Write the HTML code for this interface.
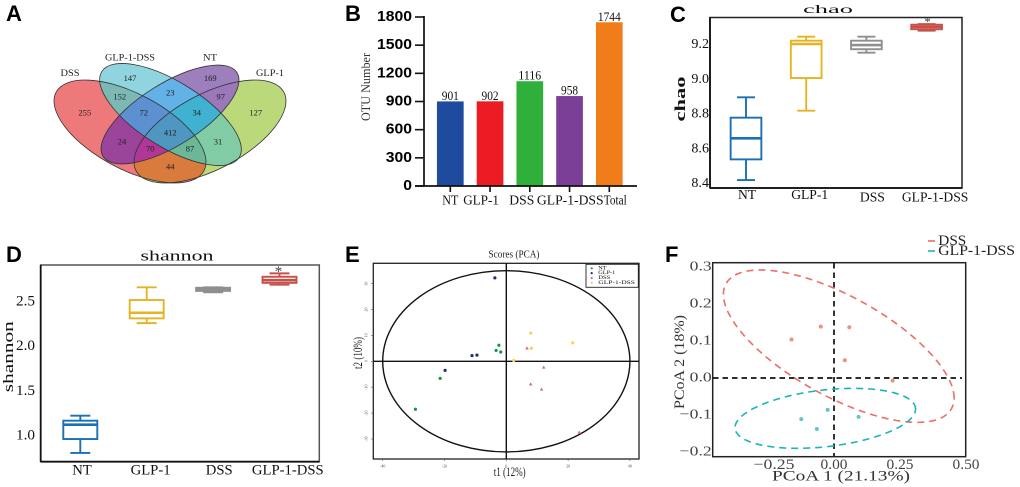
<!DOCTYPE html>
<html lang="en">
<head>
<meta charset="utf-8">
<title>Microbiome diversity figure</title>
<style>
  html, body { margin: 0; padding: 0; background: #fff; width: 1020px; height: 487px; overflow: hidden; }
  svg { display: block; filter: blur(0.35px); }
  text { font-family: "Liberation Serif", serif; fill: #111; }
  .panel-letter { font-family: "Liberation Sans", sans-serif; font-weight: bold; font-size: 22px; fill: #000; }
  .venn-num { font-size: 8.5px; text-anchor: middle; dominant-baseline: central; fill: #222; }
  .venn-set { font-size: 9.5px; text-anchor: middle; dominant-baseline: central; fill: #222; }
</style>
</head>
<body>
<svg id="fig" xmlns="http://www.w3.org/2000/svg" width="1020" height="487" viewBox="0 0 1020 487">
  <defs>
    <clipPath id="c-d"><ellipse cx="130" cy="131.5" rx="83.7" ry="37.7" transform="rotate(28 130 131.5)"/></clipPath>
    <clipPath id="c-g"><ellipse cx="210" cy="131.5" rx="83.7" ry="37.7" transform="rotate(-28 210 131.5)"/></clipPath>
    <clipPath id="c-c"><ellipse cx="170.5" cy="114.5" rx="81" ry="32.6" transform="rotate(32 170.5 114.5)"/></clipPath>
    <clipPath id="c-n"><ellipse cx="170" cy="114.5" rx="79" ry="31" transform="rotate(-32 170 114.5)"/></clipPath>
  </defs>

  <text class="panel-letter" x="6" y="21">A</text>
  <text class="panel-letter" x="345" y="21">B</text>
  <text class="panel-letter" x="670" y="22">C</text>
  <text class="panel-letter" x="6" y="262">D</text>
  <text class="panel-letter" x="345" y="262">E</text>
  <text class="panel-letter" x="665" y="262">F</text>

  <g>
    <g clip-path="url(#c-d)"><rect x="0" y="40" width="340" height="170" fill="#ee797b"/></g>
    <g clip-path="url(#c-g)"><rect x="0" y="40" width="340" height="170" fill="#bbd97b"/></g>
    <g clip-path="url(#c-c)"><rect x="0" y="40" width="340" height="170" fill="#8fd4de"/></g>
    <g clip-path="url(#c-n)"><rect x="0" y="40" width="340" height="170" fill="#9e7fbd"/></g>
    <g clip-path="url(#c-d)"><g clip-path="url(#c-g)"><rect x="0" y="40" width="340" height="170" fill="#d97b3c"/></g></g>
    <g clip-path="url(#c-d)"><g clip-path="url(#c-c)"><rect x="0" y="40" width="340" height="170" fill="#7cb9b4"/></g></g>
    <g clip-path="url(#c-d)"><g clip-path="url(#c-n)"><rect x="0" y="40" width="340" height="170" fill="#9b459a"/></g></g>
    <g clip-path="url(#c-g)"><g clip-path="url(#c-c)"><rect x="0" y="40" width="340" height="170" fill="#82cca5"/></g></g>
    <g clip-path="url(#c-g)"><g clip-path="url(#c-n)"><rect x="0" y="40" width="340" height="170" fill="#9a78ba"/></g></g>
    <g clip-path="url(#c-c)"><g clip-path="url(#c-n)"><rect x="0" y="40" width="340" height="170" fill="#62b1e7"/></g></g>
    <g clip-path="url(#c-d)"><g clip-path="url(#c-c)"><g clip-path="url(#c-n)"><rect x="0" y="40" width="340" height="170" fill="#5c90d0"/></g></g></g>
    <g clip-path="url(#c-g)"><g clip-path="url(#c-c)"><g clip-path="url(#c-n)"><rect x="0" y="40" width="340" height="170" fill="#3fb2d2"/></g></g></g>
    <g clip-path="url(#c-d)"><g clip-path="url(#c-g)"><g clip-path="url(#c-n)"><rect x="0" y="40" width="340" height="170" fill="#b03697"/></g></g></g>
    <g clip-path="url(#c-d)"><g clip-path="url(#c-g)"><g clip-path="url(#c-c)"><rect x="0" y="40" width="340" height="170" fill="#6bb798"/></g></g></g>
    <g clip-path="url(#c-d)"><g clip-path="url(#c-g)"><g clip-path="url(#c-c)"><g clip-path="url(#c-n)"><rect x="0" y="40" width="340" height="170" fill="#4f96c0"/></g></g></g></g>
    <g fill="none" stroke="#333" stroke-width="0.8">
      <ellipse cx="130" cy="131.5" rx="83.7" ry="37.7" transform="rotate(28 130 131.5)"/>
      <ellipse cx="210" cy="131.5" rx="83.7" ry="37.7" transform="rotate(-28 210 131.5)"/>
      <ellipse cx="170.5" cy="114.5" rx="81" ry="32.6" transform="rotate(32 170.5 114.5)"/>
      <ellipse cx="170" cy="114.5" rx="79" ry="31" transform="rotate(-32 170 114.5)"/>
    </g>
    <text class="venn-set" x="70" y="74" textLength="19" lengthAdjust="spacingAndGlyphs">DSS</text>
    <text class="venn-set" x="130" y="58.3" textLength="50" lengthAdjust="spacingAndGlyphs">GLP-1-DSS</text>
    <text class="venn-set" x="210" y="58.3" textLength="14" lengthAdjust="spacingAndGlyphs">NT</text>
    <text class="venn-set" x="270" y="74" textLength="28" lengthAdjust="spacingAndGlyphs">GLP-1</text>
    <text class="venn-num" x="130" y="78">147</text>
    <text class="venn-num" x="210.3" y="78">169</text>
    <text class="venn-num" x="119.7" y="96.3">152</text>
    <text class="venn-num" x="170.3" y="92.7">23</text>
    <text class="venn-num" x="220.7" y="96.3">97</text>
    <text class="venn-num" x="84.7" y="112.7">255</text>
    <text class="venn-num" x="143.7" y="112.7">72</text>
    <text class="venn-num" x="196.7" y="112.7">34</text>
    <text class="venn-num" x="255.7" y="112.7">127</text>
    <text class="venn-num" x="170.3" y="132.3">412</text>
    <text class="venn-num" x="122" y="141.3">24</text>
    <text class="venn-num" x="218" y="141.3">31</text>
    <text class="venn-num" x="150.3" y="148.3">70</text>
    <text class="venn-num" x="190" y="148.3">87</text>
    <text class="venn-num" x="170.3" y="166.7">44</text>
  </g>
</svg>

<script>
// ---------- Panel B data ----------
const otuCategories = ['NT', 'GLP-1', 'DSS', 'GLP-1-DSS', 'Total'];
const otuValues = [901, 902, 1116, 958, 1744];
const otuTicks = [0, 300, 600, 900, 1200, 1500, 1800];
const otuColors = ['#1f4b9f', '#ec1c24', '#2fb03a', '#7b3f98', '#f07c1a'];

// ---------- Panel C data ----------
const boxGroups = ['NT', 'GLP-1', 'DSS', 'GLP-1-DSS'];
const boxColors = ['#1b6fb5', '#e6b422', '#8f8f8f', '#c8504a'];
const chaoLow = [8.417, 8.816, 9.15, 9.277];
const chaoQ1 = [8.536, 9.004, 9.17, 9.285];
const chaoMedian = [8.657, 9.2, 9.194, 9.298];
const chaoQ3 = [8.776, 9.219, 9.219, 9.311];
const chaoHigh = [8.893, 9.242, 9.242, 9.315];
const chaoTicks = [8.4, 8.6, 8.8, 9.0, 9.2];

// ---------- Panel D data ----------
const shannonLow = [0.80, 2.25, 2.595, 2.68];
const shannonQ1 = [0.955, 2.303, 2.61, 2.70];
const shannonMedian = [1.115, 2.366, 2.63, 2.73];
const shannonQ3 = [1.16, 2.508, 2.645, 2.768];
const shannonHigh = [1.216, 2.65, 2.65, 2.806];
const shannonTicks = [1.0, 1.5, 2.0, 2.5];

// ---------- Panel E data ----------
const pcaNtX = [-2.4, -3.3, -1.8, -21.4, -29.4];
const pcaNtY = [6.2, 4.2, 3.6, -6.6, -18.5];
const pcaGlpX = [-3.7, -11.1, -9.5, -19.8];
const pcaGlpY = [32.2, 2.2, 2.4, -3.5];
const pcaDssX = [6.7, 12.1, 7.9, 11.4, 23.6];
const pcaDssY = [5.1, -2.3, -8.8, -10.8, -27.4];
const pcaGlpDssX = [7.9, 8.1, 21.5, 2.4];
const pcaGlpDssY = [10.9, 5.0, 7.1, 0.3];
const pcaXTicks = [-40, -20, 0, 20, 40];
const pcaYTicks = [-30, -20, -10, 0, 10, 20, 30];
const pcaLegend = ['NT', 'GLP-1', 'DSS', 'GLP-1-DSS'];

// ---------- Panel F data ----------
const pcoaDssX = [-0.161, -0.05, 0.058, 0.041, 0.222];
const pcoaDssY = [0.104, 0.139, 0.137, 0.048, -0.007];
const pcoaGlpDssX = [-0.124, -0.065, -0.024, 0.093];
const pcoaGlpDssY = [-0.111, -0.138, -0.086, -0.105];
const pcoaXTicks = [-0.25, 0, 0.25, 0.5];
const pcoaYTicks = [-0.2, -0.1, 0, 0.1, 0.2, 0.3];
const pcoaEllipseCenterX = [0.018, -0.033];
const pcoaEllipseCenterY = [0.086, -0.109];
const pcoaEllipseRadiusX = [0.437, 0.342];
const pcoaEllipseRadiusY = [0.206, 0.081];
const pcoaEllipseCorr = [-0.68, 0.31];

const NS = 'http://www.w3.org/2000/svg';
const fig = document.getElementById('fig');

function mk(tag, attrs, parent) {
  const n = document.createElementNS(NS, tag);
  for (const k in attrs) n.setAttribute(k, attrs[k]);
  (parent || fig).appendChild(n);
  return n;
}
function txt(parent, str, x, y, size, o) {
  o = o || {};
  const a = { x: x, y: y, 'font-size': size, 'text-anchor': o.anchor || 'middle', 'dominant-baseline': 'central' };
  if (o.fill) a.style = 'fill:' + o.fill;
  if (o.family) a['font-family'] = o.family;
  if (o.family) a.style = (a.style ? a.style + ';' : '') + 'font-family:' + o.family;
  if (o.weight) a['font-weight'] = o.weight;
  if (o.len) { a.textLength = o.len; a.lengthAdjust = 'spacingAndGlyphs'; }
  if (o.rot) a.transform = 'rotate(' + o.rot + ' ' + x + ' ' + y + ')';
  const n = mk('text', a, parent);
  n.textContent = str;
  return n;
}
function group(name) {
  const g = mk('g', {});
  
  
  return g;
}
function tag(n, name) {
  
  
  return n;
}

// ---------- Panel B: bars ----------
(function () {
  const g = group('otu-bar-chart');
  const y = v => 186 - v * 169 / 1800;
  const x = i => 450.3 + i * 39.75;
  const barW = 26.7;
  const labelNudge = [0, -9, -8, 0.7, 6];
  const labelWidths = [16, 35.7, 25, 66.7, 23];
  otuCategories.forEach((c, i) => {
    const b = mk('rect', { x: x(i) - barW / 2, y: y(otuValues[i]), width: barW, height: y(0) - y(otuValues[i]), fill: otuColors[i] }, g);
    
    
    const v = txt(g, String(otuValues[i]), x(i), y(otuValues[i]) - 5.5, 12.5, { len: String(otuValues[i]).length * 5.7 });
    
    
    const t = mk('line', { x1: x(i), x2: x(i), y1: 186, y2: 192, stroke: '#111', 'stroke-width': 1.6 }, g);
    
    
    const l = txt(g, c, x(i) + labelNudge[i], 200, 13.2, { len: labelWidths[i] });
    
    
  });
  otuTicks.forEach(v => {
    const t = mk('line', { x1: 415, x2: 424, y1: y(v), y2: y(v), stroke: '#111', 'stroke-width': 1.6 }, g);
    
    
    const l = txt(g, String(v), 412, y(v), 14.5, { anchor: 'end', weight: 'bold', family: '"Liberation Sans", sans-serif', len: String(v).length * 8.75, fill: '#000' });
    
    
  });
  tag(mk('line', { x1: 424, x2: 424, y1: 16, y2: 186.8, stroke: '#111', 'stroke-width': 1.7 }, g), 'y-axis');
  tag(mk('line', { x1: 415, x2: 637, y1: 186, y2: 186, stroke: '#111', 'stroke-width': 1.7 }, g), 'x-axis');
  tag(txt(g, 'OTU  Number', 366, 87, 12.5, { rot: -90, len: 68, fill: '#333' }), 'y-axis-title');
})();

// ---------- Panels C and D: box plots ----------
function drawBoxes(name, cfg, low, q1, med, q3, high, ticks) {
  const g = group(name);
  const x = i => cfg.x0 + i * cfg.step;
  const y = v => cfg.y0 - (v - cfg.v0) * cfg.scale;
  tag(mk('rect', { x: cfg.left, y: cfg.top, width: cfg.right - cfg.left, height: cfg.bottom - cfg.top, fill: 'none', stroke: cfg.frame, 'stroke-width': 1.5 }, g), 'plot-frame');
  tag(mk('line', { x1: cfg.left, x2: cfg.left, y1: cfg.top, y2: cfg.bottom, stroke: '#111', 'stroke-width': 1.8 }, g), 'y-axis');
  tag(mk('line', { x1: cfg.left, x2: cfg.right, y1: cfg.bottom, y2: cfg.bottom, stroke: '#111', 'stroke-width': 1.8 }, g), 'x-axis');
  boxGroups.forEach((c, i) => {
    const col = boxColors[i];
    const sw = 1.9;
    const cx = x(i);
    [[cx, y(high[i]), cx, y(q3[i]), 'upper-whisker'], [cx, y(q1[i]), cx, y(low[i]), 'lower-whisker'],
     [cx - cfg.cap / 2, y(high[i]), cx + cfg.cap / 2, y(high[i]), 'upper-cap'], [cx - cfg.cap / 2, y(low[i]), cx + cfg.cap / 2, y(low[i]), 'lower-cap']].forEach(s => {
      const w = mk('line', { x1: s[0], y1: s[1], x2: s[2], y2: s[3], stroke: col, 'stroke-width': sw }, g);
      
      
    });
    const b = mk('rect', { x: cx - cfg.boxW / 2, y: y(q3[i]), width: cfg.boxW, height: y(q1[i]) - y(q3[i]), fill: '#fff', stroke: col, 'stroke-width': sw }, g);
    
    
    const m = mk('line', { x1: cx - cfg.boxW / 2, x2: cx + cfg.boxW / 2, y1: y(med[i]), y2: y(med[i]), stroke: col, 'stroke-width': 2.6 }, g);
    
    
    const l = txt(g, c, cx + cfg.labNudge + i * cfg.labStep, cfg.labY + (i > 1 ? cfg.labDrop : 0), cfg.labSize);
    
    
  });
  ticks.forEach(v => {
    const l = txt(g, v.toFixed(1), cfg.tickX, y(v), cfg.labSize + 0.5, { anchor: 'end' });
    
    
  });
  const s = mk('text', { x: x(3) + cfg.starDx, y: cfg.starY, 'font-size': cfg.starSize, 'text-anchor': 'middle', style: 'fill:#444' }, g);
  s.textContent = '*';
  
  
  tag(txt(g, cfg.title, cfg.titleX, cfg.titleY, cfg.titleSize, { len: cfg.titleLen }), 'chart-title');
  tag(txt(g, cfg.title, cfg.ytX, cfg.ytY, cfg.ytSize, { rot: -90, len: cfg.ytLen, weight: cfg.ytWeight }), 'y-axis-title');
}

drawBoxes('chao-box-plot', {
  left: 710, right: 962, top: 17.5, bottom: 188, frame: '#222',
  x0: 746, step: 60.2, y0: 44, v0: 9.2, scale: 173.75, boxW: 30.7, cap: 18,
  labNudge: 1, labStep: 2.5, labY: 194.5, labDrop: 2.5, labSize: 13.6, tickX: 709,
  starDx: 1, starY: 26, starSize: 13, title: 'chao', titleX: 828, titleY: 9, titleSize: 12, titleLen: 50,
  ytX: 681, ytY: 99, ytSize: 15, ytLen: 45, ytWeight: 'bold'
}, chaoLow, chaoQ1, chaoMedian, chaoQ3, chaoHigh, chaoTicks);

drawBoxes('shannon-box-plot', {
  left: 40.7, right: 319.3, top: 265, bottom: 461.7, frame: '#555',
  x0: 80.3, step: 66.4, y0: 435, v0: 1.0, scale: 89.5, boxW: 34, cap: 20,
  labNudge: 1.7, labStep: 2.2, labY: 470.5, labDrop: 0, labSize: 14.7, tickX: 35,
  starDx: -1, starY: 276, starSize: 15, title: 'shannon', titleX: 177, titleY: 256.7, titleSize: 14.7, titleLen: 73,
  ytX: 9, ytY: 356.7, ytSize: 15, ytLen: 71
}, shannonLow, shannonQ1, shannonMedian, shannonQ3, shannonHigh, shannonTicks);

// ---------- Panel E: PCA scatter ----------
(function () {
  const g = group('pca-score-plot');
  const x = v => 506.3 + v * 3.09;
  const y = v => 361.3 - v * 2.59;
  tag(mk('rect', { x: 373.3, y: 263.3, width: 265.7, height: 195.7, fill: 'none', stroke: '#222', 'stroke-width': 1.3 }, g), 'plot-frame');
  tag(mk('ellipse', { cx: x(0), cy: y(0), rx: x(40) - x(0), ry: y(0) - y(35), fill: 'none', stroke: '#111', 'stroke-width': 1.4 }, g), 'confidence-ellipse');
  tag(mk('line', { x1: x(0), x2: x(0), y1: 263.3, y2: 459, stroke: '#111', 'stroke-width': 1.4 }, g), 'vertical-zero-line');
  tag(mk('line', { x1: 373.3, x2: 639, y1: y(0), y2: y(0), stroke: '#111', 'stroke-width': 1.4 }, g), 'horizontal-zero-line');
  pcaXTicks.forEach(v => {
    const t = mk('line', { x1: x(v), x2: x(v), y1: 459, y2: 461, stroke: '#555', 'stroke-width': 0.6 }, g);
    
    
    const l = txt(g, String(v), x(v), 466, 4, { fill: '#555' });
    
    
  });
  pcaYTicks.forEach(v => {
    const t = mk('line', { x1: 371, x2: 373.3, y1: y(v), y2: y(v), stroke: '#555', 'stroke-width': 0.6 }, g);
    
    
    const l = txt(g, String(v), 366, y(v), 4, { fill: '#555', rot: -90 });
    
    
  });
  function dots(xs, ys, col, name) {
    xs.forEach((v, i) => {
      const d = mk('circle', { cx: x(v), cy: y(ys[i]), r: 1.6, fill: col }, g);
      
      
    });
  }
  dots(pcaNtX, pcaNtY, '#16963f', 'point-nt');
  dots(pcaGlpX, pcaGlpY, '#1f2f6f', 'point-glp-1');
  pcaDssX.forEach((v, i) => {
    const cx = x(v), cy = y(pcaDssY[i]);
    const d = mk('polygon', { points: [cx, cy - 1.8, cx + 1.8, cy + 1.4, cx - 1.8, cy + 1.4].join(','), fill: '#c86fa5' }, g);
    
    
  });
  dots(pcaGlpDssX, pcaGlpDssY, '#f2d65c', 'point-glp-1-dss');
  tag(mk('rect', { x: 586, y: 264.3, width: 52.3, height: 23, fill: '#fff', stroke: '#222', 'stroke-width': 0.9 }, g), 'legend-box');
  const legendColors = ['#16963f', '#1f2f6f', '#c86fa5', '#f2d65c'];
  const legendWidths = [8.3, 17, 12, 36.7];
  pcaLegend.forEach((c, i) => {
    const ly = 268.3 + i * 4.85;
    const m = mk('circle', { cx: 591.7, cy: ly, r: 1.1, fill: legendColors[i] }, g);
    
    
    const l = txt(g, c, 598.3, ly, 5.2, { anchor: 'start', len: legendWidths[i] });
    
    
  });
  tag(txt(g, 'Scores (PCA)', 514, 255, 10.5, { len: 51, fill: '#222' }), 'chart-title');
  tag(txt(g, 't1 (12%)', 509.7, 471.7, 13, { len: 32, fill: '#222' }), 'x-axis-title');
  tag(txt(g, 't2 (10%)', 357.7, 353, 13, { rot: -90, len: 32, fill: '#222' }), 'y-axis-title');
})();

// ---------- Panel F: PCoA scatter ----------
(function () {
  const g = group('pcoa-plot');
  const x = v => 834 + v * 264;
  const y = v => 378 - v * 370;
  tag(mk('rect', { x: 712.7, y: 262.7, width: 253, height: 194, fill: 'none', stroke: '#222', 'stroke-width': 1.5 }, g), 'plot-frame');
  tag(mk('line', { x1: x(0), x2: x(0), y1: 263, y2: 456, stroke: '#111', 'stroke-width': 1.7, 'stroke-dasharray': '5.5 4' }, g), 'vertical-zero-line');
  tag(mk('line', { x1: 713, x2: 962, y1: y(0), y2: y(0), stroke: '#111', 'stroke-width': 1.7, 'stroke-dasharray': '5.5 4' }, g), 'horizontal-zero-line');
  const cols = ['#ea6f66', '#1ab5b8'];
  const names = ['dss', 'glp-1-dss'];
  pcoaEllipseCenterX.forEach((c, i) => {
    const delta = Math.acos(pcoaEllipseCorr[i]);
    let d = '';
    for (let t = 0; t <= 360; t += 3) {
      const r = t * Math.PI / 180;
      const px = x(c + pcoaEllipseRadiusX[i] * Math.cos(r));
      const py = y(pcoaEllipseCenterY[i] + pcoaEllipseRadiusY[i] * Math.cos(r - delta));
      d += (t ? 'L' : 'M') + px.toFixed(2) + ' ' + py.toFixed(2);
    }
    const e = mk('path', { d: d + 'Z', fill: 'none', stroke: cols[i], 'stroke-width': 1.6, 'stroke-dasharray': '7 5' }, g);
    
    
  });
  pcoaDssX.forEach((v, i) => {
    const d = mk('circle', { cx: x(v), cy: y(pcoaDssY[i]), r: 2, fill: '#ef9086' }, g);
    
    
  });
  pcoaGlpDssX.forEach((v, i) => {
    const d = mk('circle', { cx: x(v), cy: y(pcoaGlpDssY[i]), r: 2, fill: '#62c6c6' }, g);
    
    
  });
  pcoaXTicks.forEach(v => {
    const str = (v < 0 ? '\u2212' : '') + Math.abs(v).toFixed(2);
    const l = txt(g, str, x(v) + (v < 0 ? 6 : 0), 465, 14.5, { fill: '#444', len: v < 0 ? 41 : 27 });
    
    
  });
  pcoaYTicks.forEach(v => {
    const str = (v < 0 ? '\u2212' : '') + Math.abs(v).toFixed(1);
    const l = txt(g, str, 711.7, y(v), 14, { anchor: 'end', fill: '#444', len: v < 0 ? 32 : 22 });
    
    
  });
  tag(txt(g, 'PCoA 1 (21.13%)', 841, 476.7, 14.5, { len: 138, fill: '#333' }), 'x-axis-title');
  tag(txt(g, 'PCoA 2 (18%)', 680, 362, 14.5, { rot: -90, len: 94, fill: '#333' }), 'y-axis-title');
  ['DSS', 'GLP-1-DSS'].forEach((c, i) => {
    const ly = 241 + i * 10;
    const a = mk('line', { x1: 928, x2: 935, y1: ly, y2: ly, stroke: cols[i], 'stroke-width': 1.6 }, g);
    
    
    const l = txt(g, c, 938.3, ly, 15, { anchor: 'start', len: i ? 76.7 : 28, fill: '#222' });
    
    
  });
})();
</script>
</body>
</html>
